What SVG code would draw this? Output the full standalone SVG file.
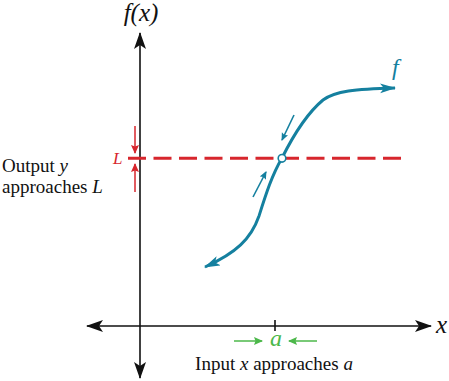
<svg xmlns="http://www.w3.org/2000/svg" width="449" height="381" viewBox="0 0 449 381">
<style>
.ser{font-family:"Liberation Serif","DejaVu Serif",serif;}
.it{font-style:italic;}
.axis{stroke:#111;stroke-width:1.6;fill:none;}
.curve{stroke:#15809f;stroke-width:3;fill:none;}
.sm-t{stroke:#15809f;stroke-width:1.6;fill:none;}
.sm-r{stroke:#d7262d;stroke-width:1.5;fill:none;}
.sm-g{stroke:#4cb84a;stroke-width:1.5;fill:none;}
</style>
<defs>
<marker id="ak" markerUnits="userSpaceOnUse" markerWidth="20" markerHeight="14" refX="16" refY="6" orient="auto">
<path d="M0,0 L17,6 L0,12 L4,6 Z" fill="#111"/>
</marker>
<marker id="at" markerUnits="userSpaceOnUse" markerWidth="20" markerHeight="12" refX="15" refY="5" orient="auto-start-reverse">
<path d="M0,0 L16,5 L0,10 L4,5 Z" fill="#15809f"/>
</marker>
<marker id="ats" markerUnits="userSpaceOnUse" markerWidth="10" markerHeight="8" refX="7" refY="3.5" orient="auto">
<path d="M0,0 L8,3.5 L0,7 L1.5,3.5 Z" fill="#15809f"/>
</marker>
<marker id="ar" markerUnits="userSpaceOnUse" markerWidth="10" markerHeight="10" refX="8" refY="4" orient="auto">
<path d="M0,0 L9,4 L0,8 L1.5,4 Z" fill="#d7262d"/>
</marker>
<marker id="ag" markerUnits="userSpaceOnUse" markerWidth="10" markerHeight="10" refX="8" refY="4" orient="auto">
<path d="M0,0 L9,4 L0,8 L1.5,4 Z" fill="#4cb84a"/>
</marker>
</defs>
<g id="connectors">
<line class="axis" x1="140" y1="200" x2="140" y2="33" marker-end="url(#ak)"/>
<line class="axis" x1="140" y1="200" x2="140" y2="378" marker-end="url(#ak)"/>
<line class="axis" x1="260" y1="326" x2="87" y2="326" marker-end="url(#ak)"/>
<line class="axis" x1="260" y1="326" x2="431" y2="326" marker-end="url(#ak)"/>
<line class="axis" x1="275" y1="320" x2="275" y2="331" stroke-width="1.2"/>
<line x1="128" y1="158.3" x2="408" y2="158.3" stroke="#d7262d" stroke-width="3" stroke-dasharray="18,7.5"/>
<path class="curve" d="M205,267 C236,253 251,239 259,216 C266,194 272,175 282,158 C292,138 305,115 323,100 C335,91 355,89 395,88" marker-start="url(#at)" marker-end="url(#at)"/>
<line class="sm-t" x1="294" y1="115" x2="282" y2="140" marker-end="url(#ats)"/>
<line class="sm-t" x1="253" y1="197" x2="266" y2="172" marker-end="url(#ats)"/>
<line class="sm-r" x1="135" y1="126" x2="135" y2="153" marker-end="url(#ar)"/>
<line class="sm-r" x1="135" y1="192" x2="135" y2="164" marker-end="url(#ar)"/>
<line class="sm-g" x1="234" y1="341" x2="262" y2="341" marker-end="url(#ag)"/>
<line class="sm-g" x1="317" y1="341" x2="289" y2="341" marker-end="url(#ag)"/>
</g>
<g id="hole">
<circle cx="282" cy="158.3" r="3.8" fill="#fff" stroke="#15809f" stroke-width="1.6"/>
</g>
<g id="labels">
<text class="ser it" x="141" y="21" font-size="25" text-anchor="middle" fill="#111">f(x)</text>
<text class="ser it" x="436" y="333" font-size="25" fill="#111">x</text>
<text class="ser it" x="392" y="75" font-size="24" fill="#15809f">f</text>
<text class="ser it" x="113" y="164" font-size="17" fill="#d7262d">L</text>
<text class="ser it" x="276" y="346" font-size="24" text-anchor="middle" fill="#4cb84a">a</text>
<text class="ser" x="2" y="172" font-size="19" fill="#111">Output <tspan class="it">y</tspan></text>
<text class="ser" x="2" y="193" font-size="19" fill="#111">approaches <tspan class="it">L</tspan></text>
<text class="ser" x="274" y="370" font-size="19" text-anchor="middle" fill="#111">Input <tspan class="it">x</tspan> approaches <tspan class="it">a</tspan></text>
</g>
</svg>
